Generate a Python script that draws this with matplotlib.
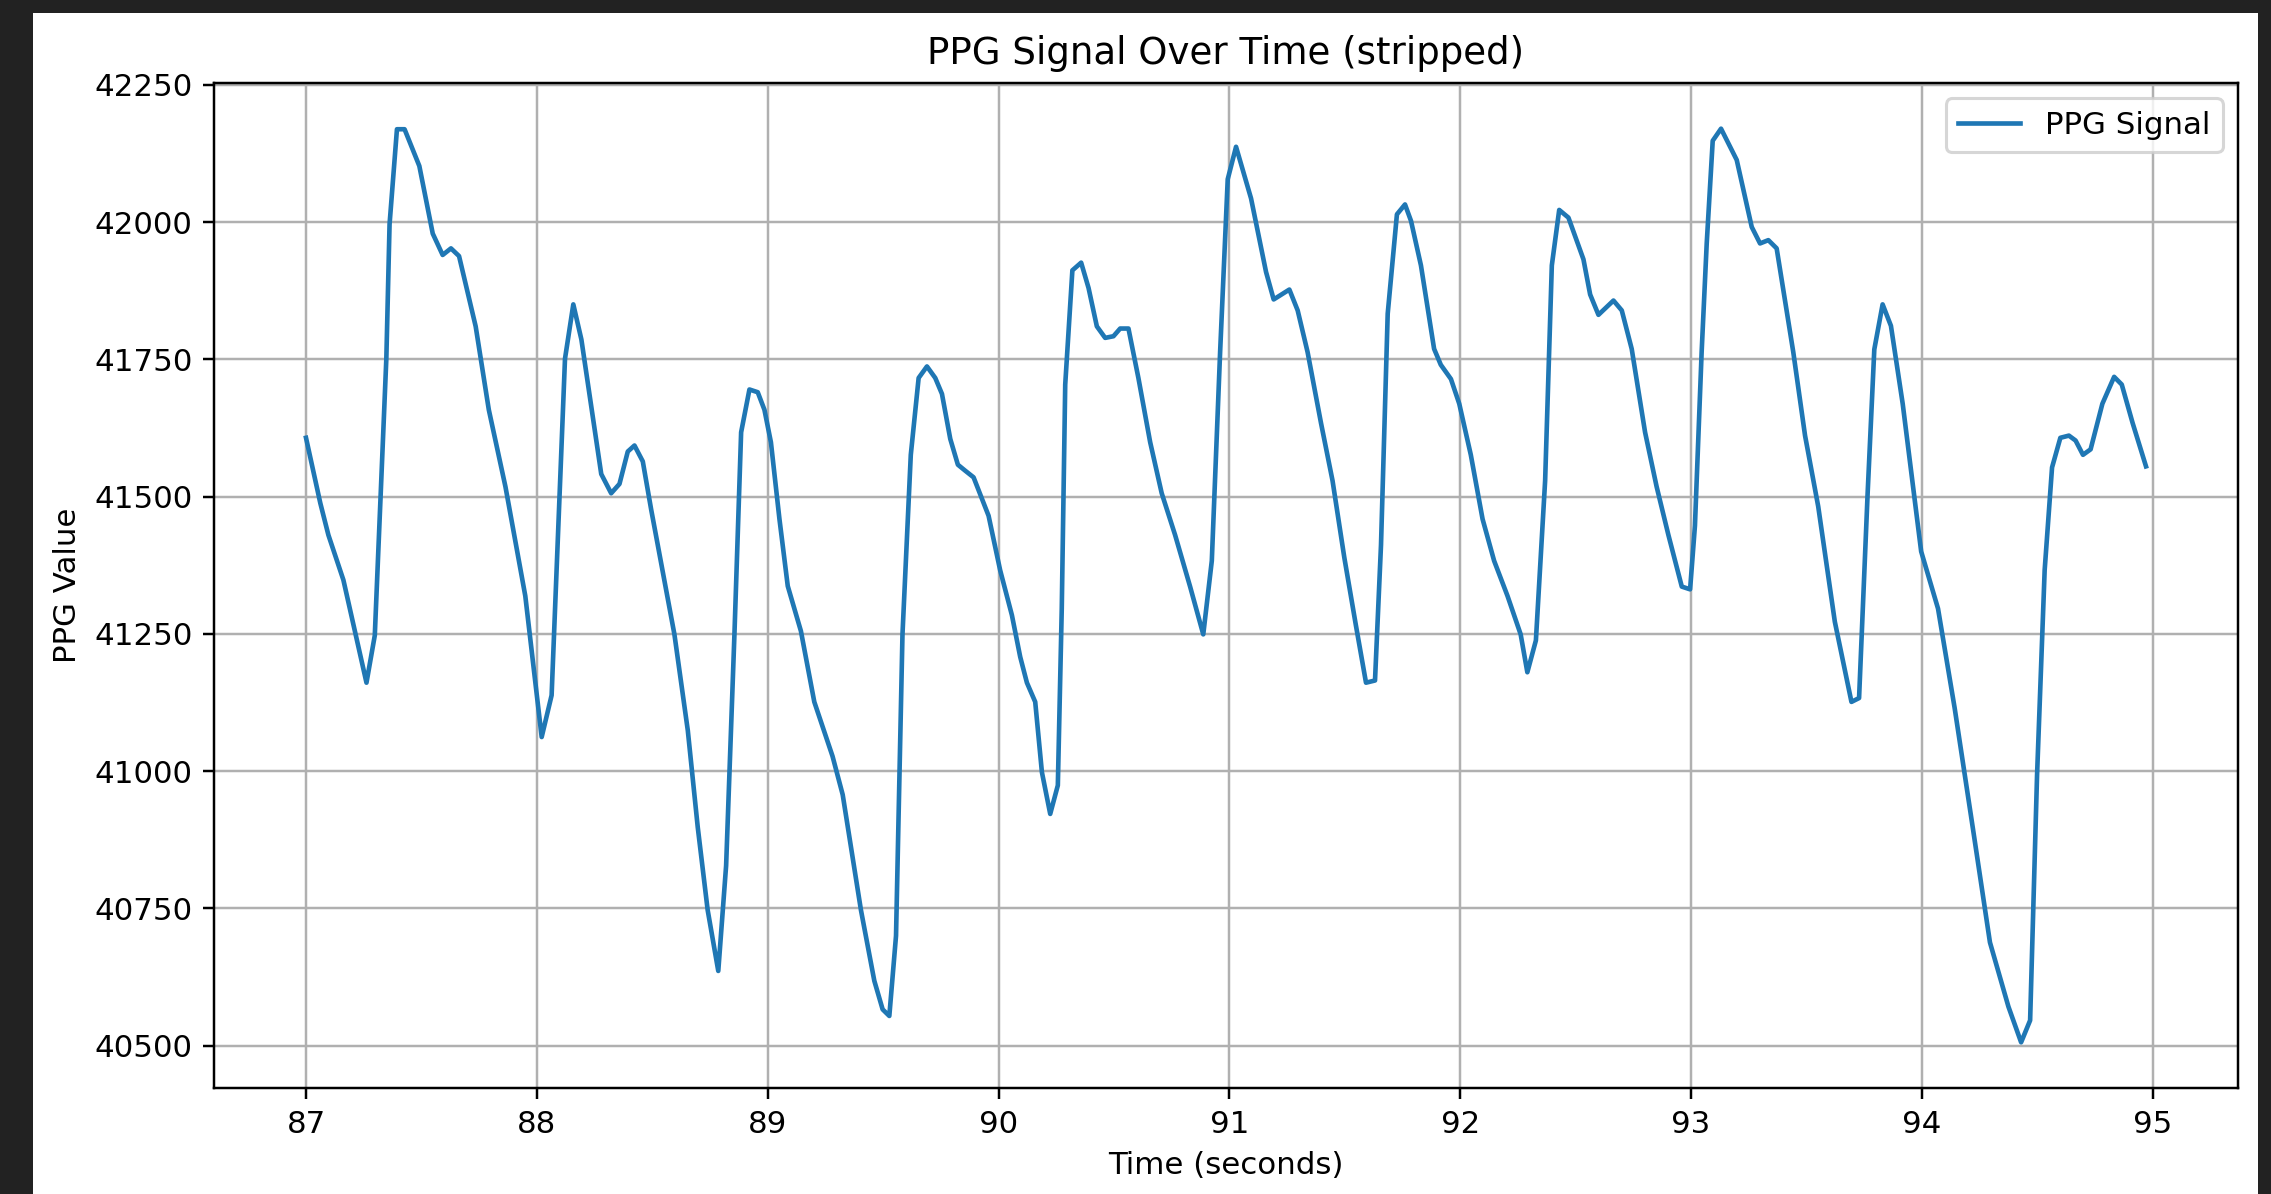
import matplotlib
matplotlib.use("Agg")
import matplotlib.pyplot as plt
from matplotlib.patches import Rectangle

# samples (time in s, raw PPG value)
time_s = [
    87.000, 87.062, 87.097, 87.162, 87.262, 87.298, 87.348, 87.362, 87.394, 87.427,
    87.491, 87.549, 87.592, 87.628, 87.663, 87.735, 87.792, 87.864, 87.950, 88.021,
    88.064, 88.122, 88.158, 88.193, 88.279, 88.322, 88.358, 88.394, 88.423, 88.459,
    88.495, 88.596, 88.654, 88.697, 88.740, 88.786, 88.820, 88.856, 88.885, 88.921,
    88.957, 88.986, 89.014, 89.051, 89.087, 89.144, 89.202, 89.281, 89.325, 89.404,
    89.462, 89.498, 89.527, 89.556, 89.584, 89.620, 89.654, 89.690, 89.726, 89.755,
    89.791, 89.824, 89.856, 89.892, 89.957, 90.007, 90.058, 90.094, 90.123, 90.159,
    90.188, 90.224, 90.257, 90.274, 90.289, 90.320, 90.358, 90.390, 90.426, 90.462,
    90.498, 90.527, 90.563, 90.606, 90.657, 90.707, 90.765, 90.830, 90.887, 90.924,
    90.960, 90.993, 91.029, 91.094, 91.159, 91.192, 91.260, 91.296, 91.339, 91.397,
    91.447, 91.498, 91.548, 91.592, 91.631, 91.657, 91.686, 91.726, 91.761, 91.787,
    91.830, 91.887, 91.916, 91.960, 91.996, 92.046, 92.097, 92.147, 92.205, 92.262,
    92.291, 92.328, 92.368, 92.397, 92.429, 92.469, 92.534, 92.563, 92.599, 92.664,
    92.700, 92.743, 92.801, 92.851, 92.902, 92.960, 92.996, 93.017, 93.046, 93.068,
    93.094, 93.130, 93.198, 93.263, 93.299, 93.335, 93.371, 93.443, 93.494, 93.551,
    93.623, 93.695, 93.728, 93.765, 93.794, 93.830, 93.866, 93.917, 93.997, 94.070,
    94.142, 94.222, 94.295, 94.375, 94.430, 94.469, 94.499, 94.532, 94.564, 94.600,
    94.637, 94.666, 94.698, 94.731, 94.782, 94.833, 94.866, 94.913, 94.971,
]
ppg_values = [
    41607, 41488, 41430, 41348, 41161, 41247, 41751, 41996, 42169, 42169,
    42102, 41979, 41940, 41952, 41938, 41810, 41658, 41518, 41319, 41062,
    41138, 41751, 41850, 41786, 41541, 41506, 41523, 41582, 41593, 41564,
    41477, 41249, 41074, 40898, 40747, 40636, 40828, 41249, 41617, 41695,
    41690, 41658, 41599, 41459, 41337, 41255, 41126, 41027, 40957, 40747,
    40618, 40566, 40554, 40700, 41249, 41576, 41716, 41737, 41716, 41687,
    41605, 41558, 41547, 41535, 41465, 41366, 41284, 41208, 41161, 41126,
    40998, 40922, 40974, 41296, 41704, 41912, 41926, 41880, 41810, 41789,
    41792, 41806, 41806, 41716, 41599, 41506, 41430, 41336, 41249, 41383,
    41763, 42078, 42137, 42043, 41909, 41859, 41877, 41839, 41763, 41634,
    41529, 41389, 41266, 41161, 41165, 41412, 41833, 42014, 42032, 42002,
    41921, 41769, 41740, 41714, 41669, 41576, 41459, 41383, 41319, 41249,
    41180, 41238, 41529, 41921, 42022, 42008, 41932, 41868, 41831, 41857,
    41839, 41769, 41617, 41518, 41430, 41336, 41331, 41447, 41763, 41961,
    42148, 42170, 42113, 41991, 41961, 41967, 41952, 41763, 41611, 41482,
    41272, 41126, 41133, 41505, 41768, 41850, 41811, 41669, 41400, 41296,
    41115, 40893, 40688, 40571, 40506, 40546, 40992, 41366, 41553, 41607,
    41611, 41602, 41576, 41586, 41669, 41718, 41704, 41634, 41555,
]

W, H, DPI = 2271, 1194, 222.5
fig = plt.figure(figsize=(W / DPI, H / DPI), dpi=DPI)
fig.patch.set_facecolor("#222222")
# white notebook output area inside the dark screenshot frame
fig.patches.append(Rectangle((33 / W, 0), (2258 - 33) / W, (1194 - 13) / H,
                             transform=fig.transFigure, facecolor="white",
                             edgecolor="none", zorder=-1))

ax = fig.add_axes([214 / W, 1 - 1088 / H, (2238 - 214) / W, (1088 - 83) / H])
ax.plot(time_s, ppg_values, label="PPG Signal")
ax.set_title("PPG Signal Over Time (stripped)")
ax.set_xlabel("Time (seconds)")
ax.set_ylabel("PPG Value")
ax.legend(loc="upper right")
ax.grid(True)

fig.savefig("out.png", dpi=DPI, facecolor=fig.get_facecolor())
